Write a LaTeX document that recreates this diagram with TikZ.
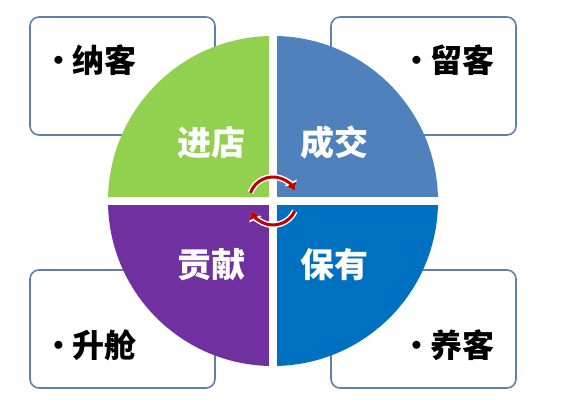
\documentclass[tikz,border=0pt]{standalone}
\usepackage{fontspec}
\newfontfamily\cjk{Noto Sans CJK SC}
\usetikzlibrary{arrows.meta,positioning}
\definecolor{qgreen}{RGB}{146,208,80}
\definecolor{qsteel}{RGB}{79,129,189}
\definecolor{qpurple}{RGB}{112,48,160}
\definecolor{qblue}{RGB}{0,112,192}
\definecolor{boxline}{RGB}{94,128,170}
\definecolor{arrowred}{RGB}{192,0,0}
\newcommand{\dotmark}{\raisebox{6.5pt}{\fontsize{22}{22}\selectfont$\bullet$}\hspace{9pt}}

\begin{document}
\begin{tikzpicture}[x=1pt, y=1pt,
    tagbox/.style={draw=boxline, line width=1.6pt, rounded corners=9pt, fill=white, minimum width=185pt, minimum height=118pt},
    tag/.style={font=\cjk\bfseries\fontsize{32}{32}\selectfont, text=black},
    quad/.style={font=\cjk\bfseries\fontsize{34}{34}\selectfont, text=white},
    cycle/.style={line width=3pt, arrowred, -{Triangle[length=7pt, width=10pt]}},
    halo/.style={line width=6pt, white, -{Triangle[length=9pt, width=13pt]}}
]
\useasboundingbox (0,0) rectangle (562,404);

% Boxes
\node[tagbox] (boxtl) at (122.5,328) {};
\node[tagbox] (boxtr) at (423.5,328) {};
\node[tagbox] (boxbl) at (122.5,75) {};
\node[tagbox] (boxbr) at (423.5,75) {};

% Quadrants
\coordinate (c) at (273,203);
\fill[qgreen]  (c) -- ++(180:165) arc (180:90:165) -- cycle;
\fill[qsteel]  (c) -- ++(90:165) arc (90:0:165) -- cycle;
\fill[qpurple] (c) -- ++(180:165) arc (180:270:165) -- cycle;
\fill[qblue]   (c) -- ++(270:165) arc (270:360:165) -- cycle;
\draw[white, line width=8pt] ([xshift=-170pt]c) -- ([xshift=170pt]c);
\draw[white, line width=8pt] ([yshift=-170pt]c) -- ([yshift=170pt]c);

% Texts
\node[tag] (nake) at (95,344) {\dotmark 纳客};
\node[tag] (liuke) at (453,344) {\dotmark 留客};
\node[tag] (shengcang) at (95,59) {\dotmark 升舱};
\node[tag] (yangke) at (453,59) {\dotmark 养客};
\node[quad] (jindian) at (211,261) {进店};
\node[quad] (chengjiao) at (334,261) {成交};
\node[quad] (gongxian) at (211,139) {贡献};
\node[quad] (baoyou) at (334,139) {保有};

% Cycle
\draw[halo] (c) ++(160:24) arc (160:26:24);
\draw[cycle] (c) ++(160:24) arc (160:26:24);
\draw[halo] (c) ++(-25:24) arc (-25:-154:24);
\draw[cycle] (c) ++(-25:24) arc (-25:-154:24);

\end{tikzpicture}
\end{document}
